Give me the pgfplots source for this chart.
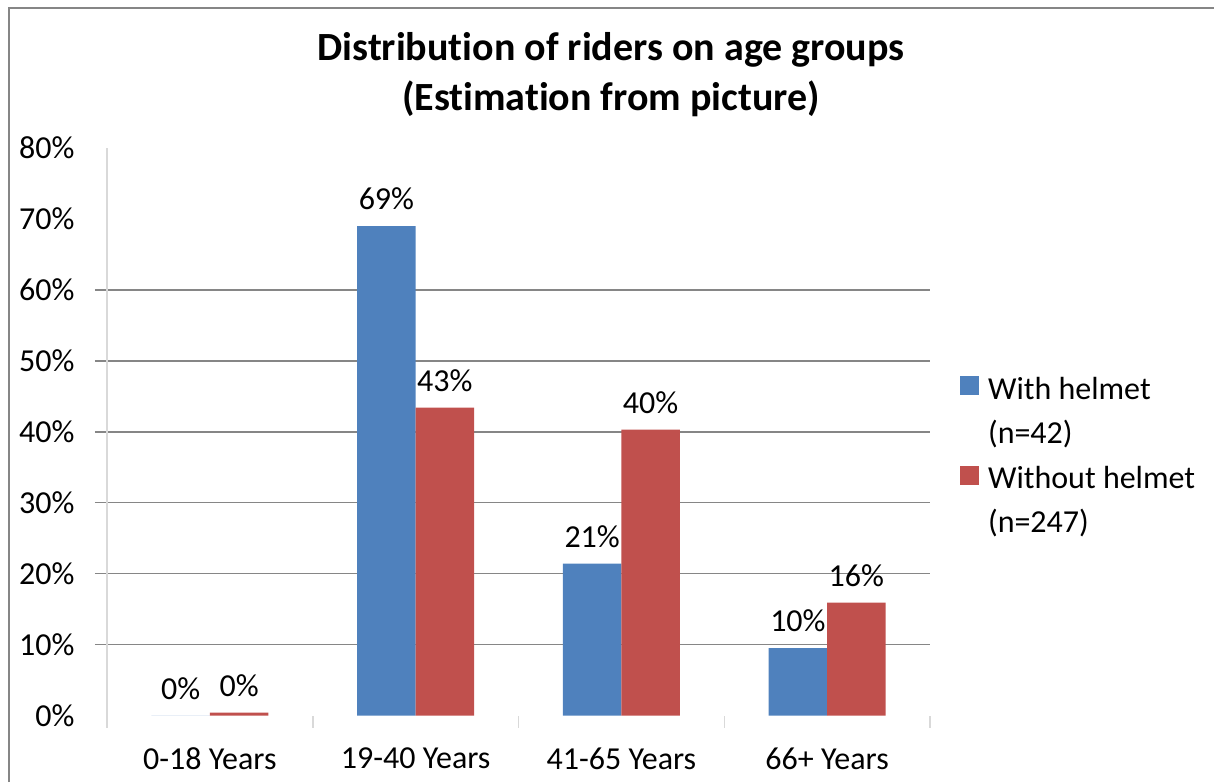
\documentclass[border=0pt]{standalone}
\usepackage{pgfplots}
\pgfplotsset{compat=1.18}
\usepackage{fontspec}
\setmainfont{Carlito}[Ligatures=NoCommon]
\definecolor{cblue}{HTML}{4F81BD}
\definecolor{cred}{HTML}{C0504D}
\definecolor{gridgray}{HTML}{868686}
\definecolor{axgray}{HTML}{D9D9D9}
\begin{document}
\fontsize{16bp}{19bp}\selectfont
\begin{tikzpicture}[x=1bp,y=1bp]
\useasboundingbox (0,0) rectangle (607,391);
\draw[gridgray, line width=0.75bp] (4.5,0) -- (4.5,387) -- (607,387);
\node[font=\fontsize{20bp}{24bp}\selectfont\bfseries, anchor=base] at (305.5,361) {Distribution of riders on age groups};
\node[font=\fontsize{20bp}{24bp}\selectfont\bfseries, anchor=base] at (305.5,336) {(Estimation from picture)};
\begin{axis}[
  at={(53.5bp,33.25bp)}, anchor=south west,
  scale only axis, width=411.5bp, height=283.75bp,
  xmin=-0.5, xmax=3.5, ymin=0, ymax=80,
  axis lines*=left,
  x axis line style={draw=none},
  y axis line style={draw=axgray, line width=0.75bp},
  tick align=outside,
  major tick length=6bp,
  xtick={-0.5,0.5,1.5,2.5,3.5}, xticklabels={},
  xtick style={draw=axgray, line width=0.75bp},
  extra x ticks={0,1,2,3},
  extra x tick labels={0-18 Years,19-40 Years,41-65 Years,66+ Years},
  extra x tick style={major tick length=0pt},
  xticklabel style={yshift=-10.5bp},
  ytick={10,20,...,60}, yticklabels={},
  ymajorgrids,
  major grid style={draw=gridgray, line width=0.75bp},
  ytick style={draw=gridgray, line width=0.75bp},
  extra y ticks={0,10,...,80},
  extra y tick labels={0\%,10\%,20\%,30\%,40\%,50\%,60\%,70\%,80\%},
  extra y tick style={grid=none, major tick length=0pt},
  yticklabel style={xshift=-10.7bp},
  ybar, bar width=0.284,
  nodes near coords,
  point meta=explicit symbolic,
  every node near coord/.append style={black, yshift=2.5bp},
  legend cell align=left,
  legend image code/.code={\fill[#1] (0bp,1bp) rectangle (9.5bp,10.5bp);},
  legend style={draw=none, fill=none, at={(1.0365,0.600)}, anchor=north west,
    inner sep=0pt, outer sep=0pt, row sep=0pt, column sep=4.5bp,
    nodes={inner sep=0pt, text height=12bp, text depth=10.3bp}},
]
\addplot[fill=cblue, draw=none, bar shift=-0.142] coordinates {
  (0,0) [0\%]
  (1,69.0) [69\%]
  (2,21.4) [21\%]
  (3,9.5) [10\%]
};
\addlegendentry{With helmet}
\addlegendimage{empty legend}
\addlegendentry{(n=42)}
\addplot[fill=cred, draw=none, bar shift=0.142] coordinates {
  (0,0.4) [0\%]
  (1,43.4) [43\%]
  (2,40.3) [40\%]
  (3,15.9) [16\%]
};
\addlegendentry{Without helmet}
\addlegendimage{empty legend}
\addlegendentry{(n=247)}
\end{axis}
\end{tikzpicture}
\end{document}
